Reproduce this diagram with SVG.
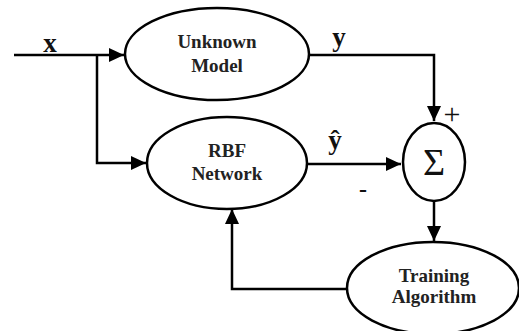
<svg xmlns="http://www.w3.org/2000/svg" width="519" height="331" viewBox="0 0 519 331">
<style>
.node{fill:#fff;stroke:#000;stroke-width:2.5}
.lbl{font-family:"Liberation Serif","DejaVu Serif",serif;font-weight:bold;font-size:19px;text-anchor:middle;fill:#222}
.sym{font-family:"Liberation Serif","DejaVu Serif",serif;fill:#111;text-anchor:middle}
.wire{fill:none;stroke:#000;stroke-width:2.5}
</style>
<defs>
<marker id="ah" markerUnits="userSpaceOnUse" markerWidth="16" markerHeight="16" viewBox="0 0 16 16" refX="15" refY="8" orient="auto">
<path d="M0,1 L15,8 L0,15 Z" fill="#000"/>
</marker>
</defs>
<g id="connectors">
<path class="wire" d="M14,55 H124" marker-end="url(#ah)"/>
<path class="wire" d="M97,55 V163 H146" marker-end="url(#ah)"/>
<path class="wire" d="M310,55 H434 V121" marker-end="url(#ah)"/>
<path class="wire" d="M308,164 H401" marker-end="url(#ah)"/>
<path class="wire" d="M434,201 V241" marker-end="url(#ah)"/>
<path class="wire" d="M347,289 H232 V209" marker-end="url(#ah)"/>
</g>
<g id="labels">
<text class="sym" x="50" y="52" font-size="27" font-weight="bold">x</text>
<text class="sym" x="339" y="46" font-size="27" font-weight="bold">y</text>
<text class="sym" x="335" y="149" font-size="27" font-weight="bold">ŷ</text>
<text class="sym" x="363" y="197" font-size="24" font-weight="bold">-</text>
<text class="sym" x="452" y="124" font-size="30">+</text>
</g>
<g id="unknown-model">
<ellipse class="node" cx="217" cy="54" rx="92" ry="46"/>
<text class="lbl" x="217" y="48">Unknown</text>
<text class="lbl" x="217" y="72">Model</text>
</g>
<g id="rbf-network">
<ellipse class="node" cx="227" cy="163" rx="80" ry="46"/>
<text class="lbl" x="227" y="157">RBF</text>
<text class="lbl" x="227" y="180">Network</text>
</g>
<g id="sum">
<ellipse class="node" cx="434" cy="162" rx="31" ry="39"/>
<text class="sym" x="434" y="175" font-size="38">Σ</text>
</g>
<g id="training-algorithm">
<ellipse class="node" cx="433" cy="288" rx="86" ry="46"/>
<text class="lbl" x="434" y="282">Training</text>
<text class="lbl" x="434" y="303">Algorithm</text>
</g>
</svg>
